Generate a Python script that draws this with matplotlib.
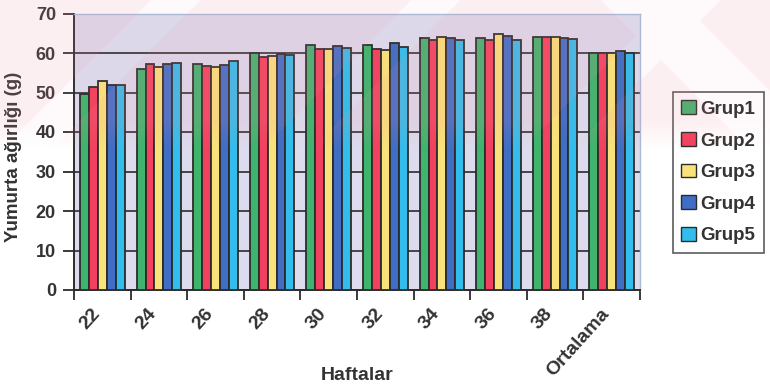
import matplotlib
matplotlib.use("Agg")
import matplotlib.pyplot as plt
import numpy as np

weeks = ["22", "24", "26", "28", "30", "32", "34", "36", "38", "Ortalama"]
groups = ["Grup1", "Grup2", "Grup3", "Grup4", "Grup5"]
grup1 = [49.7, 55.9, 57.1, 60.0, 61.9, 62.0, 63.9, 63.9, 64.1, 60.1]
grup2 = [51.5, 57.1, 56.7, 59.0, 61.1, 60.9, 63.2, 63.4, 64.1, 59.9]
grup3 = [52.9, 56.4, 56.4, 59.2, 60.9, 60.7, 64.0, 64.7, 64.1, 60.0]
grup4 = [52.0, 57.1, 57.0, 59.7, 61.7, 62.5, 63.7, 64.4, 63.9, 60.4]
grup5 = [52.0, 57.4, 57.9, 59.5, 61.3, 61.6, 63.4, 63.4, 63.6, 60.0]
series = [grup1, grup2, grup3, grup4, grup5]
colors = ["#3fb46e", "#f2415e", "#f9e27a", "#3f6ec4", "#33bdec"]

plt.rcParams["font.family"] = ["Liberation Sans", "DejaVu Sans"]
plt.rcParams["font.weight"] = "bold"

W, H = 770, 386
fig = plt.figure(figsize=(W / 100, H / 100), dpi=100)
ax = fig.add_axes([74 / W, 1 - 290 / H, 566 / W, 276.5 / H])
ax.set_facecolor("#dcdcee")

n = len(weeks)
x = np.arange(n)
bw = 0.157
for i, (vals, c, name) in enumerate(zip(series, colors, groups)):
    ax.bar(x + (i - 2) * bw, vals, width=bw, color=c, edgecolor="#2b2b2b",
           linewidth=1.3, label=name, zorder=3)

ax.set_xlim(-0.5, n - 0.5)
ax.set_ylim(0, 70)
ax.set_yticks(np.arange(0, 71, 10))
ax.yaxis.grid(True, color="#2b2b2b", linewidth=1.2, zorder=0)
ax.set_axisbelow(True)

# category boundaries carry the tick marks; labels sit just left of centre
ax.set_xticks(np.arange(-0.5, n, 1.0))
ax.set_xticklabels([])
ax.set_xticks(x - 0.2, minor=True)
ax.set_xticklabels(weeks, minor=True, rotation=48, ha="right",
                   rotation_mode="anchor", fontsize=14, fontweight="bold",
                   color="#333333")
ax.tick_params(axis="x", which="minor", length=0, pad=11)
ax.tick_params(axis="x", which="major", length=7, width=1.3, color="#2b2b2b",
               direction="out")
ax.tick_params(axis="y", length=8, width=1.3, color="#2b2b2b", direction="out",
               labelsize=13, labelcolor="#333333", pad=5)
for lbl in ax.get_yticklabels():
    lbl.set_fontweight("bold")

for side in ["left", "bottom"]:
    ax.spines[side].set_color("#2b2b2b")
    ax.spines[side].set_linewidth(1.4)
for side in ["top", "right"]:
    ax.spines[side].set_color("#a8bcd8")
    ax.spines[side].set_linewidth(1.0)

ax.set_ylabel("Yumurta ağırlığı (g)", fontsize=13.5, fontweight="bold",
              color="#333333")
ax.yaxis.set_label_coords(-52 / 566, 0.48)
fig.text(357 / W, 1 - 375 / H, "Haftalar", ha="center", va="center",
         fontsize=14, fontweight="bold", color="#333333")

leg = fig.legend(loc="upper left", bbox_to_anchor=(673 / W, 1 - 92 / H),
                 frameon=True, fancybox=False, fontsize=13.5,
                 handlelength=0.75, handleheight=0.75, handletextpad=0.25,
                 labelspacing=0.76, borderpad=0.45, borderaxespad=0)
leg.get_frame().set_edgecolor("#333333")
leg.get_frame().set_linewidth(1.2)
leg.get_frame().set_facecolor("white")
for t in leg.get_texts():
    t.set_fontweight("bold")
    t.set_color("#333333")
for h in leg.legend_handles:
    h.set_linewidth(1.0)

# soft pink diagonal watermark over the upper part of the page
yy, xx = np.mgrid[0:H, 0:W].astype(float)
fade = np.clip((150 - yy) / 30.0, 0, 1)
diag = (xx + yy) % 260.0
stripe = np.where((diag > 150) & (diag < 200), 0.35, 1.0)
anti = (xx - yy)
stripe = np.where((anti > 600) & (anti < 680), 0.3, stripe)
alpha = 0.14 * fade * stripe
overlay = np.zeros((H, W, 4))
overlay[..., 0] = 0.94
overlay[..., 1] = 0.55
overlay[..., 2] = 0.62
overlay[..., 3] = alpha
wm = fig.add_axes([0, 0, 1, 1], zorder=10)
wm.imshow(overlay, extent=(0, W, H, 0), aspect="auto", interpolation="bilinear")
wm.set_axis_off()

fig.savefig("out.png", dpi=100, facecolor="white")
